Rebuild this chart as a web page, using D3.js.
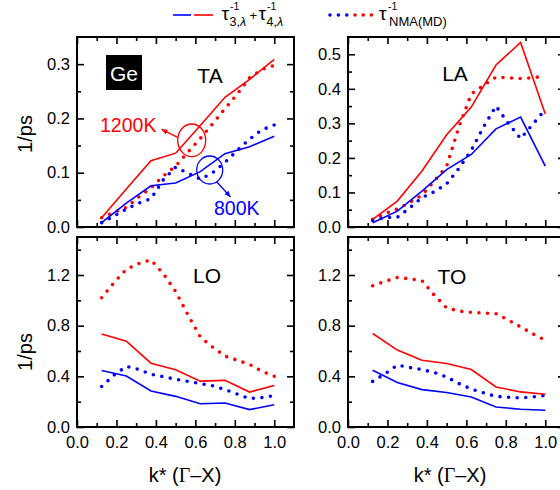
<!DOCTYPE html>
<html><head><meta charset="utf-8">
<script src="https://cdn.jsdelivr.net/npm/d3@7"></script>
<style>
body{margin:0;background:#fff}
svg{display:block}
text{font-family:Arial,"Liberation Sans",sans-serif;fill:#000}
</style>
</head><body>
<svg id="c" width="560" height="490"></svg>
<script>
// ---------------- data ----------------
const kLine = [0.125, 0.25, 0.375, 0.5, 0.625, 0.75, 0.875, 1.0];
const kDot = [0.125, 0.1875, 0.25, 0.3125, 0.375, 0.4375, 0.5, 0.5625, 0.625, 0.6875, 0.75, 0.8125, 0.875, 0.9375, 1.0];

// TA
const taCalc1200 = [0.017, 0.070, 0.122, 0.136, 0.187, 0.239, 0.272, 0.309];
const taCalc800  = [0.008, 0.044, 0.076, 0.081, 0.102, 0.135, 0.148, 0.167];
const taMD1200   = [0.017, 0.027, 0.036, 0.055, 0.072, 0.094, 0.112, 0.138, 0.163, 0.190, 0.218, 0.245, 0.275, 0.290, 0.298];
const taMD800    = [0.008, 0.020, 0.033, 0.044, 0.052, 0.087, 0.110, 0.099, 0.088, 0.100, 0.119, 0.141, 0.162, 0.179, 0.188];
// LA
const laCalc1200 = [0.022, 0.075, 0.162, 0.267, 0.347, 0.469, 0.534, 0.327];
const laCalc800  = [0.0125, 0.046, 0.104, 0.166, 0.210, 0.284, 0.318, 0.176];
const laMD1200   = [0.022, 0.039, 0.052, 0.071, 0.092, 0.133, 0.176, 0.290, 0.385, 0.410, 0.434, 0.432, 0.430, 0.432, 0.437];
const laMD800    = [0.019, 0.027, 0.028, 0.055, 0.085, 0.102, 0.125, 0.170, 0.222, 0.290, 0.350, 0.300, 0.256, 0.298, 0.340];
// LO
const loCalc1200 = [0.735, 0.678, 0.504, 0.452, 0.362, 0.368, 0.276, 0.328];
const loCalc800  = [0.446, 0.402, 0.284, 0.242, 0.184, 0.189, 0.137, 0.176];
const loMD1200   = [1.02, 1.14, 1.245, 1.29, 1.32, 1.21, 1.07, 0.885, 0.71, 0.63, 0.56, 0.527, 0.494, 0.44, 0.40];
const loMD800    = [0.32, 0.41, 0.478, 0.455, 0.416, 0.397, 0.377, 0.36, 0.343, 0.325, 0.295, 0.26, 0.224, 0.232, 0.248];
// TO
const toCalc1200 = [0.738, 0.607, 0.527, 0.501, 0.454, 0.316, 0.277, 0.258];
const toCalc800  = [0.448, 0.351, 0.295, 0.272, 0.237, 0.158, 0.140, 0.132];
const toMD1200   = [1.115, 1.15, 1.18, 1.17, 1.155, 1.04, 0.94, 0.915, 0.905, 0.90, 0.895, 0.845, 0.79, 0.735, 0.685];
const toMD800    = [0.36, 0.42, 0.488, 0.47, 0.453, 0.43, 0.395, 0.343, 0.30, 0.269, 0.242, 0.235, 0.23, 0.237, 0.25];

// ticks
const xMajor = [0, 0.2, 0.4, 0.6, 0.8, 1.0];
const xMinor = [0.1, 0.3, 0.5, 0.7, 0.9];
const yMajorTA = [0, 0.1, 0.2, 0.3];
const yMinorTA = [0.05, 0.15, 0.25];
const yMajorLA = [0, 0.1, 0.2, 0.3, 0.4, 0.5];
const yMinorLA = [0.05, 0.15, 0.25, 0.35, 0.45];
const yMajorOpt = [0, 0.4, 0.8, 1.2];
const yMinorOpt = [0.2, 0.6, 1.0, 1.4];

const RED = "#ff0000", BLUE = "#0000ff";

// ---------------- layout ----------------
const svg = d3.select("#c");
const W = 217, H = 190;
const panels = [
  {name:"TA", x0:77,  y0:37,  yMax:0.35, yMaj:yMajorTA, yMin:yMinorTA,
   calc:[taCalc1200, taCalc800], md:[taMD1200, taMD800], xLabels:false, lab:[210, 83], ylab:true},
  {name:"LA", x0:348, y0:37,  yMax:0.55, yMaj:yMajorLA, yMin:yMinorLA,
   calc:[laCalc1200, laCalc800], md:[laMD1200, laMD800], xLabels:false, lab:[455, 81], ylab:false},
  {name:"LO", x0:77,  y0:237, yMax:1.5,  yMaj:yMajorOpt, yMin:yMinorOpt,
   calc:[loCalc1200, loCalc800], md:[loMD1200, loMD800], xLabels:true, lab:[207, 283], ylab:true},
  {name:"TO", x0:348, y0:237, yMax:1.5,  yMaj:yMajorOpt, yMin:yMinorOpt,
   calc:[toCalc1200, toCalc800], md:[toMD1200, toMD800], xLabels:true, lab:[452, 284], ylab:false}
];

panels.forEach(p => {
  const x = d3.scaleLinear().domain([0, 1.1]).range([p.x0, p.x0 + W]);
  const y = d3.scaleLinear().domain([0, p.yMax]).range([p.y0 + H, p.y0]);
  const g = svg.append("g");

  const style = sel => {
    sel.select(".domain").remove();
    sel.selectAll(".tick line").attr("stroke", "#000").attr("stroke-width", 1.6);
    sel.selectAll(".tick text").attr("font-size", 16.5).attr("font-family", "Arial, 'Liberation Sans', sans-serif").attr("fill", "#000");
  };
  const noLab = () => "";
  const f1 = d3.format(".1f");

  g.append("g").attr("transform", `translate(0,${p.y0 + H})`)
    .call(d3.axisBottom(x).tickValues(xMinor).tickSize(-4).tickSizeOuter(0).tickFormat(noLab)).call(style);
  g.append("g").attr("transform", `translate(0,${p.y0 + H})`)
    .call(d3.axisBottom(x).tickValues(xMajor).tickSize(-7).tickSizeOuter(0).tickPadding(9)
      .tickFormat(p.xLabels ? f1 : noLab)).call(style);
  g.append("g").attr("transform", `translate(0,${p.y0})`)
    .call(d3.axisTop(x).tickValues(xMinor).tickSize(-4).tickSizeOuter(0).tickFormat(noLab)).call(style);
  g.append("g").attr("transform", `translate(0,${p.y0})`)
    .call(d3.axisTop(x).tickValues(xMajor).tickSize(-7).tickSizeOuter(0).tickFormat(noLab)).call(style);
  g.append("g").attr("transform", `translate(${p.x0},0)`)
    .call(d3.axisLeft(y).tickValues(p.yMin).tickSize(-4).tickSizeOuter(0).tickFormat(noLab)).call(style);
  g.append("g").attr("transform", `translate(${p.x0},0)`)
    .call(d3.axisLeft(y).tickValues(p.yMaj).tickSize(-7).tickSizeOuter(0).tickPadding(7).tickFormat(f1)).call(style);
  g.append("g").attr("transform", `translate(${p.x0 + W},0)`)
    .call(d3.axisRight(y).tickValues(p.yMin).tickSize(-4).tickSizeOuter(0).tickFormat(noLab)).call(style);
  g.append("g").attr("transform", `translate(${p.x0 + W},0)`)
    .call(d3.axisRight(y).tickValues(p.yMaj).tickSize(-7).tickSizeOuter(0).tickFormat(noLab)).call(style);

  g.append("rect").attr("x", p.x0).attr("y", p.y0).attr("width", W).attr("height", H)
    .attr("fill", "none").attr("stroke", "#000").attr("stroke-width", 2);

  const lineCalc = d3.line().x((d, i) => x(kLine[i])).y(d => y(d));
  const lineMD = d3.line().x((d, i) => x(kDot[i])).y(d => y(d));
  const cols = [RED, BLUE];

  p.md.forEach((s, j) => {
    g.append("path").attr("d", lineMD(s)).attr("fill", "none").attr("stroke", cols[j])
      .attr("stroke-width", 3.6).attr("stroke-linecap", "round").attr("stroke-dasharray", "0 8.6");
  });
  p.calc.forEach((s, j) => {
    g.append("path").attr("d", lineCalc(s)).attr("fill", "none").attr("stroke", cols[j])
      .attr("stroke-width", 1.6);
  });

  g.append("text").attr("x", p.lab[0]).attr("y", p.lab[1]).attr("text-anchor", "middle")
    .attr("font-size", 21).text(p.name);

  if (p.ylab) {
    svg.append("text").attr("transform", `translate(32,${p.name === "TA" ? 134 : 352}) rotate(-90)`)
      .attr("text-anchor", "middle").attr("font-size", 20).text("1/ps");
  }
  if (p.xLabels) {
    const t = svg.append("text").attr("x", p.x0 + (p.name === "LO" ? 108 : 102)).attr("y", 482)
      .attr("text-anchor", "middle").attr("font-size", 20);
    t.append("tspan").text("k* (");
    t.append("tspan").attr("font-family", "'Liberation Serif','DejaVu Serif',serif").text("Γ");
    t.append("tspan").text("–X)");
  }

  if (p.name === "TA") {
    g.append("rect").attr("x", 106).attr("y", 55).attr("width", 36).attr("height", 35).attr("fill", "#000");
    g.append("text").attr("x", 124).attr("y", 81).attr("text-anchor", "middle").attr("font-size", 21)
      .style("fill", "#fff").text("Ge");
    g.append("ellipse").attr("cx", 191.7).attr("cy", 140.3).attr("rx", 14).attr("ry", 16.3)
      .attr("fill", "none").attr("stroke", RED).attr("stroke-width", 1.3);
    g.append("ellipse").attr("cx", 209.7).attr("cy", 170).attr("rx", 13).attr("ry", 14)
      .attr("fill", "none").attr("stroke", BLUE).attr("stroke-width", 1.3);
    const arrow = (x1, y1, x2, y2, c) => {
      g.append("line").attr("x1", x1).attr("y1", y1).attr("x2", x2).attr("y2", y2)
        .attr("stroke", c).attr("stroke-width", 1.3);
      const a = Math.atan2(y2 - y1, x2 - x1), L = 6, w = 2.6;
      const bx = x2 - L * Math.cos(a), by = y2 - L * Math.sin(a);
      const px = -Math.sin(a) * w, py = Math.cos(a) * w;
      g.append("path").attr("d", `M${x2},${y2}L${bx + px},${by + py}L${bx - px},${by - py}Z`).attr("fill", c);
    };
    arrow(177.7, 137.3, 161.5, 129.3, RED);
    arrow(216.7, 181.7, 230.5, 197, BLUE);
    g.append("text").attr("x", 100).attr("y", 132).attr("font-size", 19.5).style("fill", RED).text("1200K");
    g.append("text").attr("x", 214).attr("y", 215).attr("font-size", 19.5).style("fill", BLUE).text("800K");
  }
});

// ---------------- legend ----------------
const lg = svg.append("g");
lg.append("line").attr("x1", 173).attr("x2", 191).attr("y1", 15).attr("y2", 15).attr("stroke", BLUE).attr("stroke-width", 1.6);
lg.append("line").attr("x1", 194).attr("x2", 213).attr("y1", 15).attr("y2", 15).attr("stroke", RED).attr("stroke-width", 1.6);
const txt = (x, y, s, size, extra) => {
  const t = lg.append("text").attr("x", x).attr("y", y).attr("font-size", size);
  if (extra) extra(t); else t.text(s);
  return t;
};
txt(221.5, 20, "τ", 19);
txt(230, 10, "-1", 10.5);
txt(229.5, 25.5, "", 12.5, t => { t.append("tspan").text("3,"); t.append("tspan").attr("font-style", "italic").text("λ"); });
txt(249.5, 20, "+", 13);
txt(258.5, 20, "τ", 19);
txt(267, 10, "-1", 10.5);
txt(266.5, 25.5, "", 12.5, t => { t.append("tspan").text("4,"); t.append("tspan").attr("font-style", "italic").text("λ"); });

lg.append("path").attr("d", "M330,15L347,15").attr("stroke", BLUE).attr("stroke-width", 3.6)
  .attr("stroke-linecap", "round").attr("stroke-dasharray", "0 8.4");
lg.append("path").attr("d", "M355,15L372,15").attr("stroke", RED).attr("stroke-width", 3.6)
  .attr("stroke-linecap", "round").attr("stroke-dasharray", "0 8.2");
txt(379, 20, "τ", 19);
txt(388, 10, "-1", 10.5);
txt(389, 26, "NMA(MD)", 13);
</script>
</body></html>
